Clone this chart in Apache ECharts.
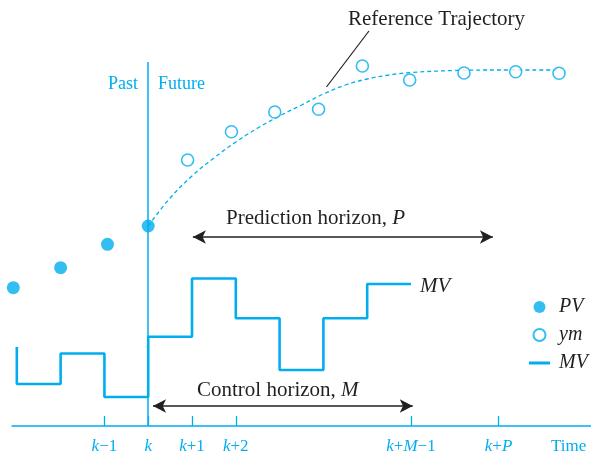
<!DOCTYPE html>
<html><head><meta charset="utf-8">
<script src="https://cdn.jsdelivr.net/npm/echarts@6/dist/echarts.min.js"></script>
<style>html,body{margin:0;padding:0;background:#fff}#c{width:591px;height:456px}</style>
</head><body><div id="c"></div>
<script>
const BLUE = '#00AEEF';
const INK = '#231F20';
const SERIF = '"Liberation Serif", "Times New Roman", serif';

// axis ticks / labels (time steps, k = 0)
const tickPositions = [-1, 0, 1, 2, 6, 8];
const labelPositions = [-1, 0, 1, 2, 6, 8, 9.6];
const tickLabels = ['k−1', 'k', 'k+1', 'k+2', 'k+M−1', 'k+P', 'Time'];

// PV (past measurements)
const pvT = [-3.08, -2.0, -0.93, 0];
const pvY = [13.83, 15.83, 18.17, 20.0];

// ym (predicted outputs)
const ymT = [0.9, 1.9, 2.89, 3.89, 4.89, 5.97, 7.21, 8.39, 9.38];
const ymY = [26.6, 29.43, 31.4, 31.67, 36.0, 34.6, 35.3, 35.43, 35.27];

// MV (value held over the step ending at t)
const mvT = [-3, -2, -1, 0, 1, 2, 3, 4, 5, 6];
const mvY = [7.9, 4.2, 7.25, 2.9, 8.93, 14.75, 10.77, 5.6, 10.77, 14.2];

// Reference trajectory (dashed)
const refT = [0, 0.5, 1, 1.5, 2, 2.5, 3, 3.5, 4, 4.5, 5, 5.5, 6, 7, 8, 9.36];
const refY = [20.0, 22.8, 25.0, 26.8, 28.4, 29.8, 31.0, 32.1, 33.2, 34.1, 34.7, 35.1, 35.35, 35.55, 35.6, 35.6];

// horizon arrows [start, end] and their height
const predArrowT = [1.02, 7.87];
const predArrowY = 18.9;
const ctrlArrowT = [0.11, 6.04];
const ctrlArrowY = 2.0;
// boundary line at k and leader line of the "Reference Trajectory" note
const nowLineY = [0, 36.4];
const leaderT = [5.04, 4.07];
const leaderY = [39.5, 33.9];

const zip = (a, b) => a.map((v, i) => [v, b[i]]);

function richLabel(s) {
  if (s === 'Time') return '{n|Time}';
  return s.split('').map(ch => /[kMP]/.test(ch) ? '{i|' + ch + '}' : '{n|' + ch + '}').join('');
}

const chart = echarts.init(document.getElementById('c'), null, {renderer: 'canvas'});

const arrowLine = (t, y) => [
  {coord: [t[0], y]}, {coord: [t[1], y]}
];

chart.setOption({
  animation: false,
  backgroundColor: '#fff',
  grid: {left: 12, right: 0, top: 26, bottom: 30},
  xAxis: {
    type: 'value', min: -3.11, max: 10.11,
    splitLine: {show: false},
    axisLine: {show: true, onZero: false, lineStyle: {color: BLUE, width: 1.5}},
    axisTick: {show: true, inside: true, length: 10, customValues: tickPositions, lineStyle: {color: BLUE, width: 1.3}},
    axisLabel: {
      show: true, margin: 12, customValues: labelPositions,
      formatter: v => {
        const i = labelPositions.findIndex(p => Math.abs(p - v) < 1e-6);
        return i < 0 ? '' : richLabel(tickLabels[i]);
      },
      rich: {
        i: {fontFamily: SERIF, fontStyle: 'italic', fontSize: 17, color: BLUE},
        n: {fontFamily: SERIF, fontSize: 17, color: BLUE}
      }
    }
  },
  yAxis: {type: 'value', min: 0, max: 40, show: false, splitLine: {show: false}},
  legend: {
    orient: 'vertical', left: 524, top: 292, itemWidth: 21, itemHeight: 12, itemGap: 8,
    selectedMode: false,
    data: [
      {name: 'PV', icon: 'circle'},
      {name: 'ym', icon: 'circle'},
      {name: 'MV', icon: 'path://M0,0H21V3H0Z'}
    ],
    textStyle: {fontFamily: SERIF, fontStyle: 'italic', fontSize: 20, color: INK, lineHeight: 20, padding: [0, 0, 0, 4]}
  },
  series: [
    {
      name: 'Reference', type: 'line', data: zip(refT, refY), smooth: 0.4,
      showSymbol: false, symbol: 'none', silent: true, z: 2,
      lineStyle: {color: BLUE, width: 1.3, type: [4, 3]},
      markLine: {
        silent: true, symbol: 'none', label: {show: false},
        lineStyle: {color: INK, width: 1.2, type: 'solid'},
        data: [[{coord: [leaderT[0], leaderY[0]]}, {coord: [leaderT[1], leaderY[1]]}]]
      }
    },
    {
      name: 'MV', type: 'line', data: zip(mvT, mvY), step: 'start',
      showSymbol: false, symbol: 'none', z: 3,
      itemStyle: {color: BLUE},
      lineStyle: {color: BLUE, width: 2.6},
      markLine: {
        silent: true, symbol: 'none', label: {show: false},
        lineStyle: {color: BLUE, width: 1.5, type: 'solid'},
        data: [[{coord: [0, nowLineY[0]]}, {coord: [0, nowLineY[1]]}]]
      }
    },
    {
      name: 'Arrows', type: 'line', data: [], silent: true,
      markLine: {
        silent: true, symbol: ['arrow', 'arrow'], symbolSize: [10, 13], label: {show: false},
        lineStyle: {color: INK, width: 1.6, type: 'solid'},
        itemStyle: {color: INK},
        data: [arrowLine(predArrowT, predArrowY), arrowLine(ctrlArrowT, ctrlArrowY)]
      }
    },
    {
      name: 'PV', type: 'scatter', data: zip(pvT, pvY), symbol: 'circle', symbolSize: 13, z: 5,
      itemStyle: {color: BLUE}
    },
    {
      name: 'ym', type: 'scatter', data: zip(ymT, ymY), symbol: 'circle', symbolSize: 12, z: 5,
      itemStyle: {color: '#fff', borderColor: BLUE, borderWidth: 1.6}
    }
  ],
  graphic: [
    {type: 'text', x: 348, y: 19, silent: true,
     style: {text: 'Reference Trajectory', font: '21px ' + SERIF, fill: INK, verticalAlign: 'middle'}},
    {type: 'text', x: 108, y: 84, silent: true,
     style: {text: 'Past', font: '18px ' + SERIF, fill: BLUE, verticalAlign: 'middle'}},
    {type: 'text', x: 158, y: 84, silent: true,
     style: {text: 'Future', font: '18px ' + SERIF, fill: BLUE, verticalAlign: 'middle'}},
    {type: 'text', x: 226, y: 218, silent: true,
     style: {text: 'Prediction horizon, {i|P}', font: '21px ' + SERIF, fill: INK, verticalAlign: 'middle',
       rich: {i: {fontFamily: SERIF, fontStyle: 'italic', fontSize: 21, fill: INK}}}},
    {type: 'text', x: 197, y: 390, silent: true,
     style: {text: 'Control horizon, {i|M}', font: '21px ' + SERIF, fill: INK, verticalAlign: 'middle',
       rich: {i: {fontFamily: SERIF, fontStyle: 'italic', fontSize: 21, fill: INK}}}},
    {type: 'text', x: 420, y: 286, silent: true,
     style: {text: 'MV', font: 'italic 21px ' + SERIF, fill: INK, verticalAlign: 'middle'}}
  ]
});
</script>
</body></html>
